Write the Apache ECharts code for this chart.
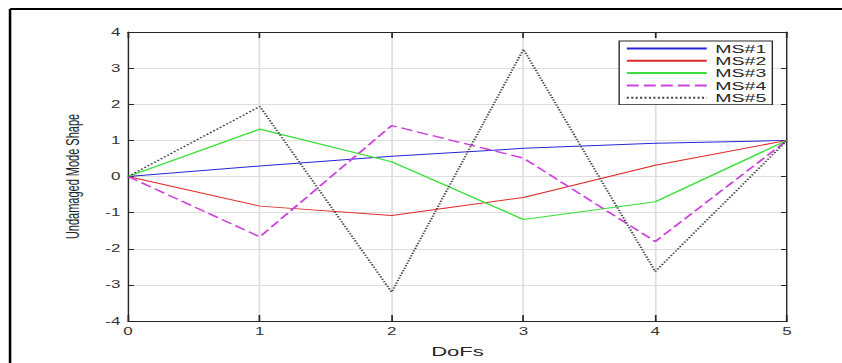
<!DOCTYPE html>
<html>
<head>
<meta charset="utf-8">
<title>Undamaged Mode Shape</title>
<script src="https://cdn.jsdelivr.net/npm/echarts@6/dist/echarts.min.js"></script>
<style>
	html, body { margin: 0; padding: 0; background: #fff; overflow: hidden; }
	/* 原图横向拉伸过，这里整体横向放大 */
	#chart { width: 495px; height: 363px; transform: scaleX(1.70101); transform-origin: 0 0; }
</style>
</head>
<body>
<div id="chart"></div>
<script>
// 自由度
var dofs = [0, 1, 2, 3, 4, 5];
// 各阶振型
var ms1 = [0, 0.29, 0.56, 0.78, 0.92, 1.0];
var ms2 = [0, -0.82, -1.08, -0.58, 0.31, 1.0];
var ms3 = [0, 1.31, 0.41, -1.19, -0.70, 1.0];
var ms4 = [0, -1.67, 1.41, 0.51, -1.80, 1.0];
var ms5 = [0, 1.94, -3.20, 3.52, -2.63, 1.0];
var seriesNames = ['MS#1', 'MS#2', 'MS#3', 'MS#4', 'MS#5'];
var xTicks = [0, 1, 2, 3, 4, 5];
var yTicks = [-4, -3, -2, -1, 0, 1, 2, 3, 4];

var chart_box = {
	toPairs : function(ys) {
		var out = [];
		for (var i = 0; i < dofs.length; i++) {
			out.push([dofs[i], ys[i]]);
		}
		return out;
	},
	line : function(name, ys, color, type, width) {
		return {
			name : name,
			type : 'line',
			symbol : 'none',
			silent : true,
			animation : false,
			data : chart_box.toPairs(ys),
			lineStyle : {
				color : color,
				width : width,
				type : type
			},
			itemStyle : {
				color : color
			}
		};
	},
	axisX : function(pos, showLabel) {
		return {
			type : 'value',
			position : pos,
			min : xTicks[0],
			max : xTicks[xTicks.length - 1],
			interval : 1,
			axisLine : { show : true, onZero : false, lineStyle : { color : '#262626', width : 1 } },
			axisTick : { show : true, inside : true, length : 6, lineStyle : { color : '#262626' } },
			axisLabel : {
				show : showLabel,
				color : '#333',
				fontSize : 10,
				fontFamily : 'Liberation Sans',
				margin : 5
			},
			splitLine : { show : showLabel, lineStyle : { color : '#dedede', width : 1 } }
		};
	},
	axisY : function(pos, showLabel) {
		return {
			type : 'value',
			position : pos,
			min : yTicks[0],
			max : yTicks[yTicks.length - 1],
			interval : 1,
			axisLine : { show : true, onZero : false, lineStyle : { color : '#262626', width : 0.8 } },
			axisTick : { show : true, inside : true, length : 3.5, lineStyle : { color : '#262626' } },
			axisLabel : {
				show : showLabel,
				color : '#333',
				fontSize : 10,
				fontFamily : 'Liberation Sans',
				margin : 4.5
			},
			splitLine : { show : showLabel, lineStyle : { color : '#dedede', width : 1 } }
		};
	}
};

var xBottom = chart_box.axisX('bottom', true);
xBottom.name = 'DoFs';
xBottom.nameLocation = 'middle';
xBottom.nameGap = 24;
xBottom.nameTextStyle = { color : '#262626', fontSize : 13, fontFamily : 'Liberation Sans' };

var yLeft = chart_box.axisY('left', true);
yLeft.name = 'Undamaged Mode Shape';
yLeft.nameLocation = 'middle';
yLeft.nameGap = 27;
yLeft.nameTextStyle = { color : '#262626', fontSize : 11, fontFamily : 'Liberation Sans' };

var option = {
	backgroundColor : '#fff',
	animation : false,
	grid : {
		left : 75.25,
		right : 32.3,
		top : 32,
		bottom : 31
	},
	legend : {
		orient : 'vertical',
		left : 364,
		top : 41,
		padding : [1.5, 3.5, 1, 3.5],
		itemGap : 0.3,
		itemWidth : 47,
		itemHeight : 12,
		backgroundColor : '#fff',
		borderColor : '#262626',
		borderWidth : 0.8,
		itemStyle : { opacity : 0 },
		textStyle : {
			color : '#262626',
			fontSize : 11.5,
			lineHeight : 12,
			fontFamily : 'Liberation Sans'
		},
		data : seriesNames
	},
	xAxis : [ xBottom, chart_box.axisX('top', false) ],
	yAxis : [ yLeft, chart_box.axisY('right', false) ],
	series : [
		chart_box.line(seriesNames[0], ms1, '#2626d9', 'solid', 1),
		chart_box.line(seriesNames[1], ms2, '#e02a2a', 'solid', 1),
		chart_box.line(seriesNames[2], ms3, '#3ce03c', 'solid', 1.2),
		chart_box.line(seriesNames[3], ms4, '#cc44dd', [7, 3], 1.4),
		chart_box.line(seriesNames[4], ms5, '#444444', [1.2, 1.4], 1.3)
	],
	// 外框
	graphic : [
		{ type : 'line', shape : { x1 : 5.9, y1 : 9, x2 : 495, y2 : 9 }, style : { stroke : '#000', lineWidth : 2 } },
		{ type : 'line', shape : { x1 : 5.9, y1 : 9, x2 : 5.9, y2 : 363 }, style : { stroke : '#000', lineWidth : 1.5 } }
	]
};

var myChart = echarts.init(document.getElementById('chart'), null, { renderer : 'svg' });
myChart.setOption(option, true);
</script>
</body>
</html>
